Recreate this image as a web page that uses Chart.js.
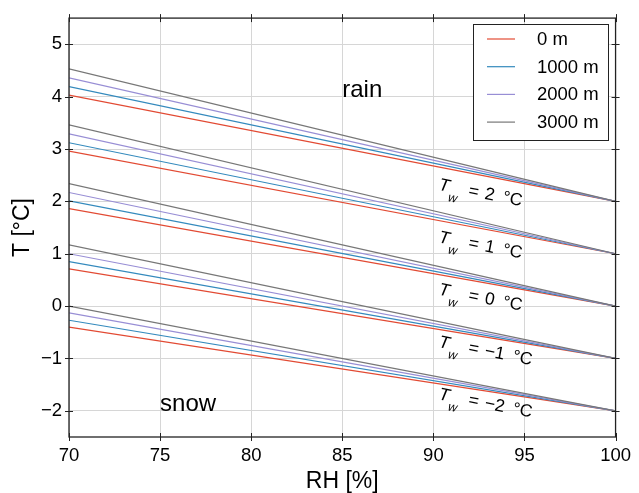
<!DOCTYPE html>
<html>
<head>
<meta charset="utf-8">
<script src="https://cdn.jsdelivr.net/npm/chart.js@4.4.1/dist/chart.umd.min.js"></script>
<style>
  html, body { margin: 0; padding: 0; background: #fff; }
  #wrap { width: 639px; height: 493px; }
</style>
</head>
<body>
<div id="wrap"><canvas id="chart" width="639" height="493"></canvas></div>
<script>
const rhStart = 70;
const rhEnd = 100;
const wetBulb = [2, 1, 0, -1, -2];
const elevations = ['0 m', '1000 m', '2000 m', '3000 m'];
// air temperature at RH = 70 %, same order as wetBulb
const tAt70_0m    = [4.03, 2.96, 1.86, 0.71, -0.40];
const tAt70_1000m = [4.19, 3.12, 2.01, 0.85, -0.27];
const tAt70_2000m = [4.36, 3.29, 2.17, 1.00, -0.13];
const tAt70_3000m = [4.53, 3.46, 2.34, 1.17, 0.00];
const xTicks = [70, 75, 80, 85, 90, 95, 100];
const yTicks = [-2, -1, 0, 1, 2, 3, 4, 5];

const lineColors = ['#E24A33', '#348ABD', '#988ED5', '#777777'];
const FONT = '"Liberation Sans", Arial, sans-serif';

const minus = v => String(v).replace('-', '\u2212');

const starts = [tAt70_0m, tAt70_1000m, tAt70_2000m, tAt70_3000m];
const datasets = [];
elevations.forEach((name, e) => {
  wetBulb.forEach((tw, i) => {
    datasets.push({
      label: name,
      data: [{ x: rhStart, y: starts[e][i] }, { x: rhEnd, y: tw }],
      borderColor: lineColors[e],
      borderWidth: 1.2,
      pointRadius: 0,
      fill: false,
      order: elevations.length - e   // 3000 m drawn last (on top)
    });
  });
});

// T_w label, rotated along the lines
function drawTw(ctx, x, y, tw) {
  ctx.save();
  ctx.translate(x, y);
  ctx.rotate(11 * Math.PI / 180);
  ctx.fillStyle = '#000';
  ctx.textAlign = 'left';
  ctx.textBaseline = 'alphabetic';
  ctx.font = 'italic 17.5px ' + FONT;
  ctx.fillText('T', 0, 0);
  ctx.font = 'italic 12.5px ' + FONT;
  ctx.fillText('w', 11.5, 9);
  ctx.font = '17.5px ' + FONT;
  ctx.fillText('=', 30.5, 0);
  const num = minus(tw);
  const numX = 47;
  ctx.fillText(num, numX, 0);
  ctx.fillText('\u00B0C', numX + ctx.measureText(num).width + 8.5, 0);
  ctx.restore();
}

const decor = {
  id: 'decor',
  afterDraw(chart) {
    const ctx = chart.ctx, a = chart.chartArea;
    const xs = chart.scales.x, ys = chart.scales.y;
    ctx.save();

    // frame
    ctx.strokeStyle = '#222';
    ctx.lineWidth = 1.3;
    ctx.strokeRect(a.left, a.top, a.right - a.left, a.bottom - a.top);

    // in-out ticks on all four sides
    ctx.lineWidth = 1;
    ctx.beginPath();
    xTicks.forEach(v => {
      const p = Math.round(xs.getPixelForValue(v)) + 0.5;
      ctx.moveTo(p, a.bottom - 4); ctx.lineTo(p, a.bottom + 4);
      ctx.moveTo(p, a.top - 4); ctx.lineTo(p, a.top + 4);
    });
    yTicks.forEach(v => {
      const p = Math.round(ys.getPixelForValue(v)) + 0.5;
      ctx.moveTo(a.left - 4, p); ctx.lineTo(a.left + 4, p);
      ctx.moveTo(a.right - 4, p); ctx.lineTo(a.right + 4, p);
    });
    ctx.stroke();

    // region labels
    ctx.fillStyle = '#000';
    ctx.font = '24px ' + FONT;
    ctx.textAlign = 'left';
    ctx.textBaseline = 'alphabetic';
    ctx.fillText('rain', xs.getPixelForValue(85), ys.getPixelForValue(4));
    ctx.fillText('snow', xs.getPixelForValue(75), ys.getPixelForValue(-2));

    // wet-bulb labels
    wetBulb.forEach(tw => {
      drawTw(ctx, xs.getPixelForValue(90.25), ys.getPixelForValue(tw + 0.22), tw);
    });

    // legend
    const lx = 473, ly = 24, lw = 135, lh = 116;
    ctx.fillStyle = '#fff';
    ctx.fillRect(lx, ly, lw, lh);
    ctx.strokeStyle = '#222';
    ctx.lineWidth = 1;
    ctx.strokeRect(lx + 0.5, ly + 0.5, lw, lh);
    ctx.font = '18.5px ' + FONT;
    ctx.textBaseline = 'middle';
    elevations.forEach((name, e) => {
      const yy = ly + 15 + e * 27.7;
      ctx.strokeStyle = lineColors[e];
      ctx.lineWidth = 1.2;
      ctx.beginPath();
      ctx.moveTo(lx + 14, yy);
      ctx.lineTo(lx + 42, yy);
      ctx.stroke();
      ctx.fillStyle = '#000';
      ctx.fillText(name, lx + 64, yy + 1);
    });

    ctx.restore();
  }
};

new Chart(document.getElementById('chart'), {
  type: 'line',
  data: { datasets: datasets },
  options: {
    responsive: false,
    animation: false,
    layout: { padding: { top: 13, right: 22, left: 0, bottom: 0 } },
    plugins: { legend: { display: false }, tooltip: { enabled: false } },
    scales: {
      x: {
        type: 'linear',
        min: 70,
        max: 100,
        afterBuildTicks: s => { s.ticks = xTicks.map(v => ({ value: v })); },
        afterFit: s => { s.height = 56; },
        grid: { color: '#d6d6d6', lineWidth: 1, drawTicks: false },
        border: { display: false },
        ticks: {
          color: '#000', padding: 8, maxRotation: 0, autoSkip: false,
          font: { family: FONT, size: 18.5 },
          callback: v => minus(v)
        },
        title: {
          display: true, text: 'RH [%]', color: '#000',
          font: { family: FONT, size: 23, lineHeight: 1 },
          padding: { top: 0, bottom: 0 }
        }
      },
      y: {
        type: 'linear',
        min: -2.5,
        max: 5.5,
        afterBuildTicks: s => { s.ticks = yTicks.map(v => ({ value: v })); },
        afterFit: s => { s.width = 69; },
        grid: { color: '#d6d6d6', lineWidth: 1, drawTicks: false },
        border: { display: false },
        ticks: {
          color: '#000', padding: 7,
          font: { family: FONT, size: 18.5 },
          callback: v => minus(v)
        },
        title: {
          display: true, text: 'T [\u00B0C]', color: '#000',
          font: { family: FONT, size: 23, lineHeight: 1 },
          padding: { top: 11, bottom: 0 }
        }
      }
    }
  },
  plugins: [decor]
});
</script>
</body>
</html>
